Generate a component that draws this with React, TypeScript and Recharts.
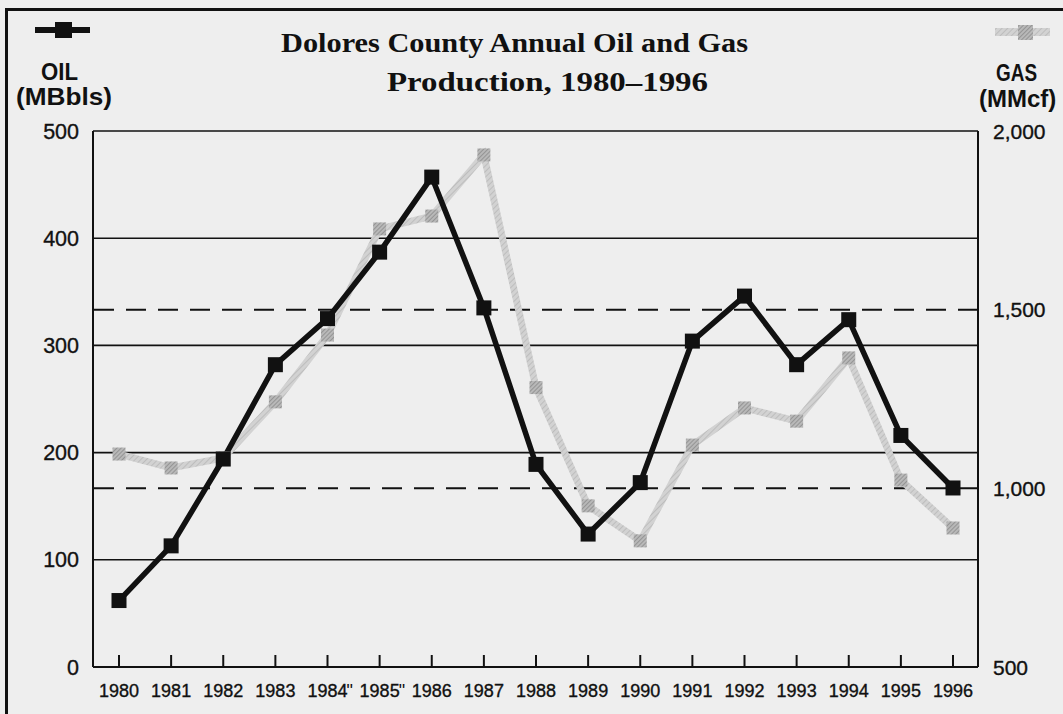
import React from 'react';
import { LineChart, Line, XAxis, YAxis, CartesianGrid, ReferenceLine } from 'recharts';

const years = ['1980', '1981', '1982', '1983', '1984', '1985', '1986', '1987', '1988', '1989', '1990', '1991', '1992', '1993', '1994', '1995', '1996'];
const oilValues = [62, 113, 194, 282, 325, 387, 457, 335, 189, 124, 172, 304, 346, 282, 324, 216, 167];
const gasValues = [1096, 1057, 1085, 1242, 1429, 1726, 1762, 1933, 1282, 951, 853, 1121, 1225, 1188, 1365, 1023, 889];
const oilTicks = [0, 100, 200, 300, 400, 500];
const gasTicks = [500, 1000, 1500, 2000];
const gasDashedLevels = [1000, 1500];
const quotedYears = ['1984', '1985'];
const titleLines = ['Dolores County Annual Oil and Gas', 'Production, 1980\u20131996'];

const data = years.map((y, i) => ({ year: y, oil: oilValues[i], gas: gasValues[i] }));

const SANS = '"Liberation Sans", Arial, Helvetica, sans-serif';
const SERIF = '"Liberation Serif", "DejaVu Serif", serif';

const OilDot = (p: any) => {
  if (p.cx == null || p.cy == null) return <g key={p.index} />;
  return <rect key={p.index} x={p.cx - 7.5} y={p.cy - 7.5} width={15} height={15} fill="#111" />;
};
const GasDot = (p: any) => {
  if (p.cx == null || p.cy == null) return <g key={p.index} />;
  return <rect key={p.index} x={p.cx - 6.5} y={p.cy - 6.5} width={13} height={13} fill="url(#gasMarkHatch)" />;
};

const textStroke = { stroke: '#111', strokeWidth: 0.35 };

const LeftTick = (p: any) => (
  <text x={p.x - 14} y={p.y} dy={7.5} textAnchor="end" fontFamily={SANS} fontSize={21.5} fill="#111" {...textStroke}>
    {p.payload.value}
  </text>
);
const RightTick = (p: any) => (
  <text x={p.x + 15} y={p.y} dy={7.5} textAnchor="start" fontFamily={SANS} fontSize={21} fill="#111" {...textStroke}>
    {Number(p.payload.value).toLocaleString('en-US')}
  </text>
);
const BottomTick = (p: any) => {
  const v = p.payload.value;
  return (
    <g>
      <line x1={p.x} x2={p.x} y1={p.y - 12} y2={p.y} stroke="#111" strokeWidth={2} />
      <text x={p.x} y={p.y + 30} textAnchor="middle" fontFamily={SANS} fontSize={18} fill="#111" {...textStroke}>
        {v}
      </text>
      {quotedYears.includes(v) ? (
        <text x={p.x + 19} y={p.y + 30} textAnchor="start" fontFamily={SANS} fontSize={18} fill="#111">
          {'"'}
        </text>
      ) : null}
    </g>
  );
};

export default function App() {
  return (
    <div style={{ position: 'fixed', left: 0, top: 0, width: 1063, height: 714, background: '#eeeeee', overflow: 'hidden' }}>
      <div style={{ position: 'absolute', left: 5, top: 8, width: 1120, height: 760, borderLeft: '3px solid #111', borderTop: '3px solid #111' }} />
      <div style={{ position: 'absolute', left: 0, top: 0 }}>
        <LineChart width={1063} height={714} data={data} margin={{ top: 131, right: 5, bottom: 7, left: 13 }}>
          <defs>
            <pattern id="gasLineHatch" patternUnits="userSpaceOnUse" width={4} height={4} patternTransform="rotate(45)">
              <rect width={4} height={4} fill="#d2d2d2" />
              <line x1={0} y1={0} x2={0} y2={4} stroke="#b6b6b6" strokeWidth={1.5} />
            </pattern>
            <pattern id="gasMarkHatch" patternUnits="userSpaceOnUse" width={3} height={3} patternTransform="rotate(45)">
              <rect width={3} height={3} fill="#b8b8b8" />
              <line x1={0} y1={0} x2={0} y2={3} stroke="#7c7c7c" strokeWidth={1.2} />
            </pattern>
          </defs>
          <CartesianGrid yAxisId="oil" vertical={false} horizontal={true} stroke="#111" strokeWidth={1.6} />
          <XAxis
            dataKey="year"
            scale="point"
            padding={{ left: 26, right: 25 }}
            axisLine={{ stroke: '#111', strokeWidth: 2 }}
            tickLine={false}
            tickSize={0}
            tickMargin={0}
            tick={BottomTick}
            height={40}
            interval={0}
          />
          <YAxis
            yAxisId="oil"
            orientation="left"
            domain={[0, 500]}
            ticks={oilTicks}
            width={80}
            axisLine={{ stroke: '#111', strokeWidth: 2 }}
            tickLine={false}
            tickSize={0}
            tickMargin={0}
            tick={LeftTick}
            interval={0}
          />
          <YAxis
            yAxisId="gas"
            orientation="right"
            domain={[500, 2000]}
            ticks={gasTicks}
            width={80}
            axisLine={{ stroke: '#111', strokeWidth: 2 }}
            tickLine={false}
            tickSize={0}
            tickMargin={0}
            tick={RightTick}
            interval={0}
          />
          {gasDashedLevels.map((lv) => (
            <ReferenceLine key={lv} yAxisId="gas" y={lv} stroke="#111" strokeWidth={2} strokeDasharray="20 12" />
          ))}
          <Line
            yAxisId="gas"
            dataKey="gas"
            stroke="url(#gasLineHatch)"
            strokeWidth={7}
            strokeLinejoin="miter"
            dot={GasDot}
            activeDot={false}
            isAnimationActive={false}
            type="linear"
          />
          <Line
            yAxisId="oil"
            dataKey="oil"
            stroke="#111"
            strokeWidth={5.5}
            strokeLinejoin="miter"
            dot={OilDot}
            activeDot={false}
            isAnimationActive={false}
            type="linear"
          />
        </LineChart>
      </div>
      <svg width={1063} height={714} style={{ position: 'absolute', left: 0, top: 0, pointerEvents: 'none' }}>
        <defs>
          <pattern id="legLineHatch" patternUnits="userSpaceOnUse" width={4} height={4} patternTransform="rotate(45)">
            <rect width={4} height={4} fill="#d2d2d2" />
            <line x1={0} y1={0} x2={0} y2={4} stroke="#b6b6b6" strokeWidth={1.5} />
          </pattern>
          <pattern id="legMarkHatch" patternUnits="userSpaceOnUse" width={3} height={3} patternTransform="rotate(45)">
            <rect width={3} height={3} fill="#b8b8b8" />
            <line x1={0} y1={0} x2={0} y2={3} stroke="#7c7c7c" strokeWidth={1.2} />
          </pattern>
        </defs>
        <text x={281} y={52} fontFamily={SERIF} fontWeight="bold" fontSize={28} fill="#111" textLength={467} lengthAdjust="spacingAndGlyphs">
          {titleLines[0]}
        </text>
        <text x={387} y={91} fontFamily={SERIF} fontWeight="bold" fontSize={28} fill="#111" textLength={321} lengthAdjust="spacingAndGlyphs">
          {titleLines[1]}
        </text>
        <line x1={35} x2={90} y1={30} y2={30} stroke="#111" strokeWidth={6} />
        <rect x={55} y={22} width={17} height={16} fill="#111" />
        <text x={41} y={80} fontFamily={SANS} fontWeight="bold" fontSize={24} fill="#111" textLength={37} lengthAdjust="spacingAndGlyphs">OIL</text>
        <text x={16} y={105} fontFamily={SANS} fontWeight="bold" fontSize={24} fill="#111" textLength={96} lengthAdjust="spacingAndGlyphs">(MBbls)</text>
        <line x1={995} x2={1050} y1={32} y2={32} stroke="url(#legLineHatch)" strokeWidth={8} />
        <rect x={1018} y={25} width={15} height={15} fill="url(#legMarkHatch)" />
        <text x={996} y={81} fontFamily={SANS} fontWeight="bold" fontSize={24} fill="#111" textLength={41} lengthAdjust="spacingAndGlyphs">GAS</text>
        <text x={979} y={107} fontFamily={SANS} fontWeight="bold" fontSize={24} fill="#111">(MMcf)</text>
      </svg>
    </div>
  );
}
